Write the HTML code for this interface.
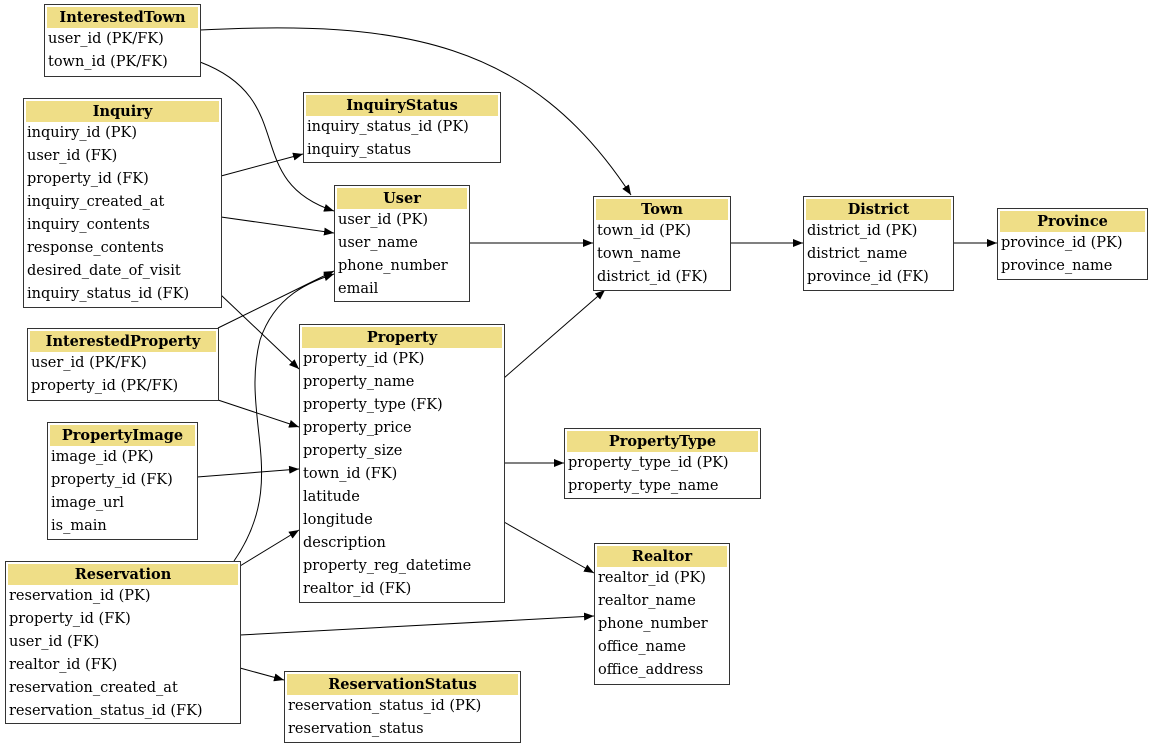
<!DOCTYPE html>
<html><head><meta charset="utf-8"><style>
body{margin:0;width:1152px;height:747px;background:#fff;position:relative;overflow:hidden;font-family:"DejaVu Serif","Liberation Serif",serif;}
.t{position:absolute;border:1px solid #333;background:#fff;padding:2px;box-sizing:border-box;font-size:14.5px;color:#000;}
.h{background:#efde87;font-weight:bold;text-align:center;height:21px;line-height:21px;white-space:nowrap;}
.r{height:23px;line-height:23px;white-space:nowrap;padding-left:1px;}
svg{position:absolute;left:0;top:0;}
</style></head><body>
<svg width="1152" height="747">
<defs><marker id="a" markerWidth="10" markerHeight="8" refX="10" refY="4" orient="auto" markerUnits="userSpaceOnUse"><path d="M0,0 L10,4 L0,8 z" fill="#000"/></marker></defs>
<g fill="none" stroke="#000" stroke-width="1" marker-end="url(#a)">
<path d="M200,30 C400,20 530,40 631,195"/>
<path d="M200,62 C300,100 240,180 334,211"/>
<path d="M221,176 L303,154"/>
<path d="M221,217 L334,233"/>
<path d="M221,295 L299,369"/>
<path d="M218,328 L334,271"/>
<path d="M218,400 L299,427"/>
<path d="M197,477 L299,469"/>
<path d="M240,566 L299,530"/>
<path d="M234,561 C290,480 240,420 260,340 C275,295 310,282 334,274"/>
<path d="M240,635 L594,616"/>
<path d="M240,668 L284,680"/>
<path d="M469,243 L593,243"/>
<path d="M504,378 L605,290"/>
<path d="M504,463 L564,463"/>
<path d="M504,522 L594,573"/>
<path d="M730,243 L803,243"/>
<path d="M953,243 L997,243"/>
</g></svg>

<div class="t" style="left:44px;top:4px;width:157px;height:73px"><div class="h">InterestedTown</div><div class="r">user_id (PK/FK)</div><div class="r">town_id (PK/FK)</div></div>
<div class="t" style="left:23px;top:98px;width:199px;height:210px"><div class="h">Inquiry</div><div class="r">inquiry_id (PK)</div><div class="r">user_id (FK)</div><div class="r">property_id (FK)</div><div class="r">inquiry_created_at</div><div class="r">inquiry_contents</div><div class="r">response_contents</div><div class="r">desired_date_of_visit</div><div class="r">inquiry_status_id (FK)</div></div>
<div class="t" style="left:303px;top:92px;width:198px;height:71px"><div class="h">InquiryStatus</div><div class="r">inquiry_status_id (PK)</div><div class="r">inquiry_status</div></div>
<div class="t" style="left:334px;top:185px;width:136px;height:117px"><div class="h">User</div><div class="r">user_id (PK)</div><div class="r">user_name</div><div class="r">phone_number</div><div class="r">email</div></div>
<div class="t" style="left:593px;top:196px;width:138px;height:95px"><div class="h">Town</div><div class="r">town_id (PK)</div><div class="r">town_name</div><div class="r">district_id (FK)</div></div>
<div class="t" style="left:803px;top:196px;width:151px;height:95px"><div class="h">District</div><div class="r">district_id (PK)</div><div class="r">district_name</div><div class="r">province_id (FK)</div></div>
<div class="t" style="left:997px;top:208px;width:151px;height:72px"><div class="h">Province</div><div class="r">province_id (PK)</div><div class="r">province_name</div></div>
<div class="t" style="left:27px;top:328px;width:192px;height:73px"><div class="h">InterestedProperty</div><div class="r">user_id (PK/FK)</div><div class="r">property_id (PK/FK)</div></div>
<div class="t" style="left:299px;top:324px;width:206px;height:279px"><div class="h">Property</div><div class="r">property_id (PK)</div><div class="r">property_name</div><div class="r">property_type (FK)</div><div class="r">property_price</div><div class="r">property_size</div><div class="r">town_id (FK)</div><div class="r">latitude</div><div class="r">longitude</div><div class="r">description</div><div class="r">property_reg_datetime</div><div class="r">realtor_id (FK)</div></div>
<div class="t" style="left:47px;top:422px;width:151px;height:118px"><div class="h">PropertyImage</div><div class="r">image_id (PK)</div><div class="r">property_id (FK)</div><div class="r">image_url</div><div class="r">is_main</div></div>
<div class="t" style="left:564px;top:428px;width:197px;height:71px"><div class="h">PropertyType</div><div class="r">property_type_id (PK)</div><div class="r">property_type_name</div></div>
<div class="t" style="left:5px;top:561px;width:236px;height:163px"><div class="h">Reservation</div><div class="r">reservation_id (PK)</div><div class="r">property_id (FK)</div><div class="r">user_id (FK)</div><div class="r">realtor_id (FK)</div><div class="r">reservation_created_at</div><div class="r">reservation_status_id (FK)</div></div>
<div class="t" style="left:594px;top:543px;width:136px;height:142px"><div class="h">Realtor</div><div class="r">realtor_id (PK)</div><div class="r">realtor_name</div><div class="r">phone_number</div><div class="r">office_name</div><div class="r">office_address</div></div>
<div class="t" style="left:284px;top:671px;width:237px;height:72px"><div class="h">ReservationStatus</div><div class="r">reservation_status_id (PK)</div><div class="r">reservation_status</div></div>
</body></html>
